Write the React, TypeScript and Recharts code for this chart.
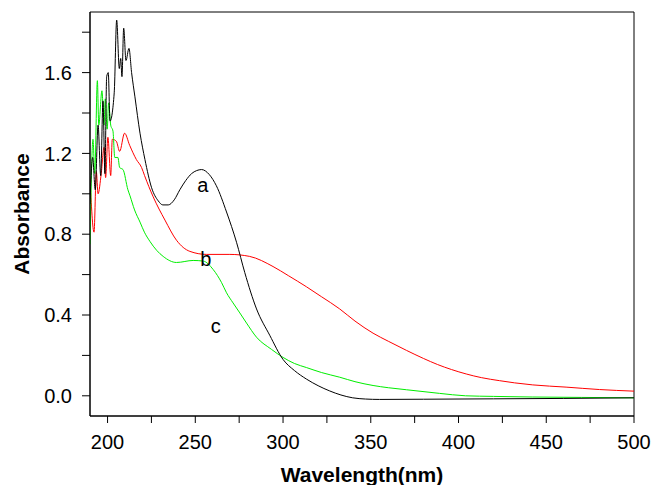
import React from "react";
import {
  Line,
  LineChart,
  ReferenceArea,
  ReferenceDot,
  XAxis,
  YAxis,
} from "recharts";

// curve a (black)
const wavelengthA = [
  190, 191.5, 193, 194.6, 196.1, 197.4, 198.5, 199.5, 200.4, 201.4, 203.8,
  205.2, 206.7, 207.5, 208.2, 209.2, 210.5, 212.2, 213.7, 215.6, 218.5, 221.3,
  225.1, 228.9, 231.5, 234.6, 238, 241.2, 244.5, 247.9, 250.8, 253.6, 258, 262,
  267.8, 273.5, 278.2, 284.9, 292.4, 300, 306.5, 313.3, 320, 326.6, 333, 339.7,
  347, 355, 380, 420, 460, 500,
];
const absorbanceA = [
  0.95, 1.18, 1.02, 1.34, 1.09, 1.46, 1.1, 1.58, 1.6, 1.36, 1.5, 1.86, 1.62,
  1.67, 1.58, 1.82, 1.66, 1.72, 1.6, 1.48, 1.3, 1.17, 1.03, 0.965, 0.945,
  0.945, 0.97, 1.02, 1.065, 1.1, 1.115, 1.12, 1.095, 1.04, 0.91, 0.76, 0.61,
  0.43, 0.3, 0.18, 0.125, 0.083, 0.05, 0.024, 0.004, -0.01, -0.016, -0.018,
  -0.017, -0.015, -0.013, -0.01,
];

// curve b (red)
const wavelengthB = [
  190, 192.3, 193.6, 194.6, 196.4, 198, 198.9, 200.2, 201.8, 202.7, 205,
  206.9, 209.7, 212.6, 216.4, 219.4, 221.1, 226, 232.7, 239.3, 246.9, 256.4,
  269.7, 281, 294.3, 303, 313.3, 322, 332.3, 341, 351.3, 360, 370.3, 380, 388,
  396, 404.4, 413, 423.3, 432, 442.3, 461.3, 480.3, 500,
];
const absorbanceB = [
  1.08, 0.81, 1.11, 1.0, 1.1, 1.23, 1.08, 1.28, 1.09, 1.27, 1.26, 1.21, 1.3,
  1.24, 1.17, 1.13, 1.09, 0.985, 0.87, 0.77, 0.715, 0.7, 0.7, 0.69, 0.64, 0.595,
  0.54, 0.49, 0.43, 0.37, 0.31, 0.27, 0.225, 0.185, 0.155, 0.13, 0.108, 0.09,
  0.075, 0.064, 0.054, 0.043, 0.031, 0.023,
];

// curve c (green)
const wavelengthC = [
  190, 191.7, 192.7, 194.2, 195, 196.8, 198, 198.7, 199.8, 200.6, 201.8, 203.1,
  204.1, 205.9, 206.9, 208.8, 211.6, 212.8, 215.4, 218.5, 221, 224.1, 228,
  231.7, 239.3, 248.8, 254.5, 260.2, 265, 267.8, 271.5, 275.4, 279.2, 284.9,
  293.4, 300, 306.5, 313.3, 322, 332.3, 341, 351.3, 360, 370.3, 389.2, 404,
  420, 442, 470, 500,
];
const absorbanceC = [
  0.75, 1.27, 1.1, 1.56, 1.34, 1.51, 1.34, 1.47, 1.32, 1.45, 1.34, 1.31, 1.18,
  1.18, 1.13, 1.12, 1.02, 0.99, 0.92, 0.86, 0.81, 0.765, 0.72, 0.69, 0.66,
  0.67, 0.667, 0.625, 0.56, 0.51, 0.46, 0.41, 0.36, 0.29, 0.23, 0.19, 0.16,
  0.14, 0.115, 0.092, 0.07, 0.051, 0.04, 0.03, 0.012, 0.0, -0.003, -0.006,
  -0.008, -0.01,
];

const xTicks = [200, 225, 250, 275, 300, 325, 350, 375, 400, 425, 450, 475, 500];
const yTicks = [0, 0.2, 0.4, 0.6, 0.8, 1.0, 1.2, 1.4, 1.6, 1.8];

const curveNames = ["a", "b", "c"];
const curveLabelX = [254.3, 256, 261.7];
const curveLabelY = [1.044, 0.68, 0.345];

const toPoints = (xs: number[], ys: number[]) =>
  xs.map((x, i) => ({ x, y: ys[i] }));

const seriesA = toPoints(wavelengthA, absorbanceA);
const seriesB = toPoints(wavelengthB, absorbanceB);
const seriesC = toPoints(wavelengthC, absorbanceC);

const font = "'Liberation Sans', Arial, sans-serif";
const tickStyle = { fontSize: 20, fill: "#000", fontFamily: font };

function YTitle(props: any) {
  const vb = props.viewBox;
  const cx = vb.x + 21;
  const cy = vb.y + vb.height / 2;
  return (
    <text
      x={cx}
      y={cy}
      transform={`rotate(-90 ${cx} ${cy})`}
      textAnchor="middle"
      dominantBaseline="central"
      fontFamily={font}
      fontSize={21}
      fontWeight={700}
      fill="#000"
    >
      Absorbance
    </text>
  );
}

function XTitle(props: any) {
  const vb = props.viewBox;
  return (
    <text
      x={vb.x + vb.width / 2}
      y={vb.y + 58}
      textAnchor="middle"
      dominantBaseline="central"
      fontFamily={font}
      fontSize={21}
      fontWeight={700}
      fill="#000"
    >
      Wavelength(nm)
    </text>
  );
}

export default function App() {
  return (
    <div style={{ position: "absolute", left: 0, top: 0, background: "#fff" }}>
      <LineChart
        width={657}
        height={485}
        margin={{ top: 12, right: 23, bottom: 0, left: 0 }}
      >
        <XAxis
          type="number"
          dataKey="x"
          domain={[190, 500]}
          ticks={xTicks}
          allowDataOverflow
          height={69}
          tickSize={7}
          tickMargin={12}
          tick={tickStyle}
          stroke="#000"
          tickFormatter={(v: number) => (v % 50 === 0 ? String(v) : "")}
          label={{ content: <XTitle /> }}
        />
        <YAxis
          type="number"
          domain={[-0.1, 1.9]}
          ticks={yTicks}
          allowDataOverflow
          width={90}
          tickSize={8}
          tickMargin={10}
          tick={tickStyle}
          stroke="#000"
          tickFormatter={(v: number) =>
            Math.round(v * 10) % 4 === 0 ? v.toFixed(1) : ""
          }
          label={{ content: <YTitle /> }}
        />
        <ReferenceArea
          x1={190}
          x2={500}
          y1={-0.1}
          y2={1.9}
          fill="none"
          stroke="#000"
          strokeWidth={1}
        />
        <Line
          data={seriesB}
          dataKey="y"
          type="monotone"
          stroke="#ff0000"
          strokeWidth={1}
          dot={false}
          isAnimationActive={false}
        />
        <Line
          data={seriesC}
          dataKey="y"
          type="monotone"
          stroke="#00ee00"
          strokeWidth={1}
          dot={false}
          isAnimationActive={false}
        />
        <Line
          data={seriesA}
          dataKey="y"
          type="monotone"
          stroke="#000"
          strokeWidth={1}
          dot={false}
          isAnimationActive={false}
        />
        {curveNames.map((name, i) => (
          <ReferenceDot
            key={name}
            x={curveLabelX[i]}
            y={curveLabelY[i]}
            r={0}
            stroke="none"
            fill="none"
            label={{
              value: name,
              position: "center",
              fontSize: 20,
              fill: "#000",
              fontFamily: font,
            }}
          />
        ))}
      </LineChart>
    </div>
  );
}
